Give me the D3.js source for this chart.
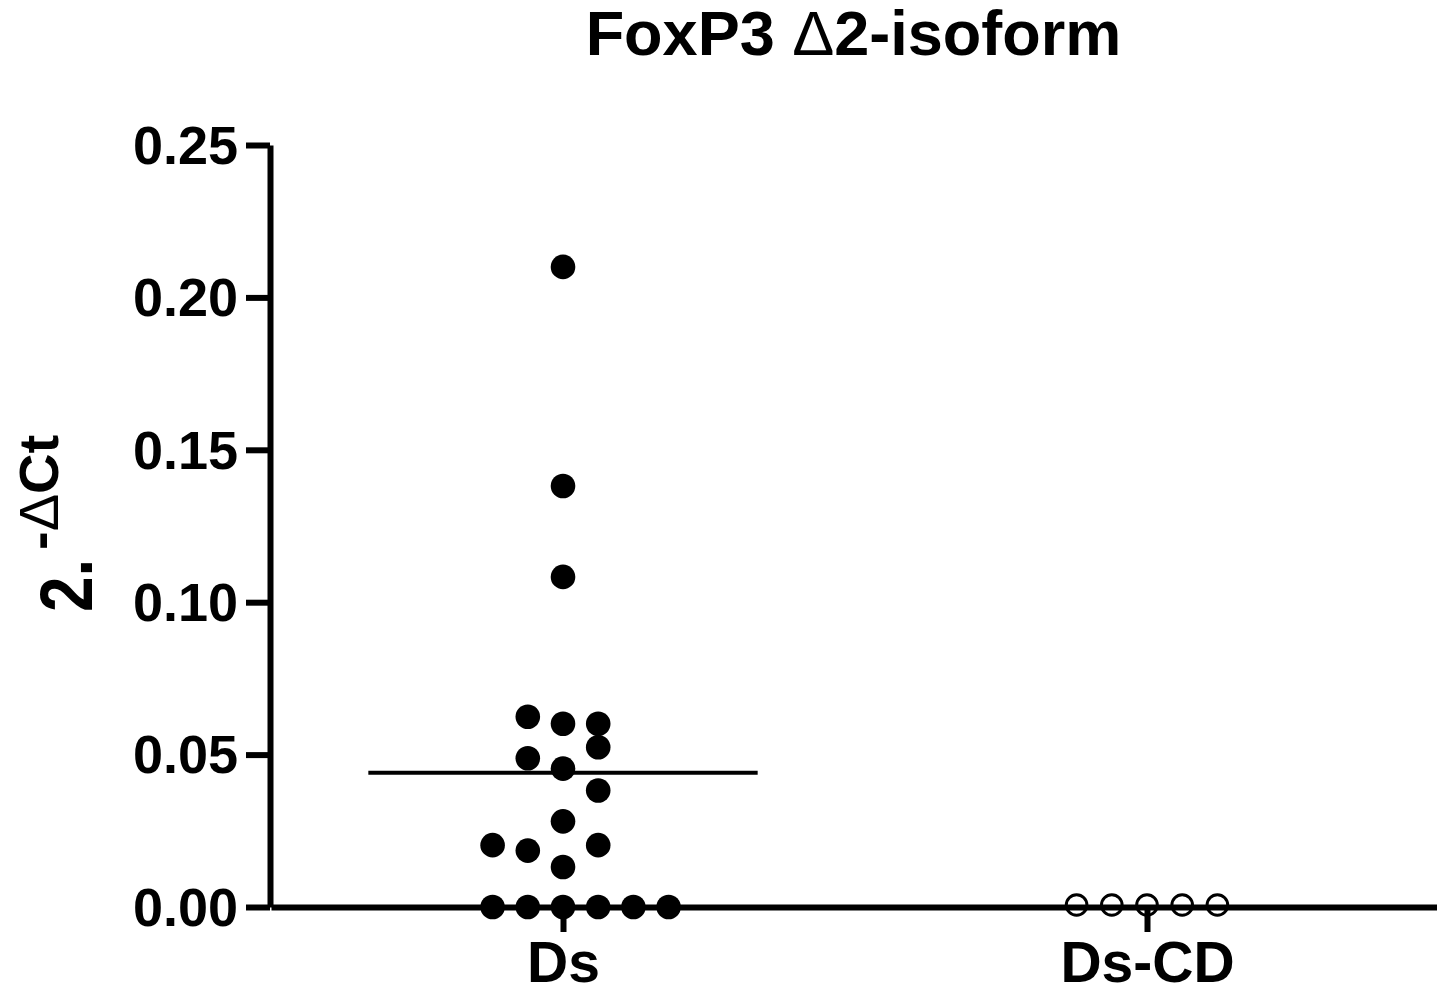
<!DOCTYPE html>
<html>
<head>
<meta charset="utf-8">
<script src="https://cdn.jsdelivr.net/npm/d3@7"></script>
<style>
	body { margin: 0; background: #fff; }
	svg text { font-family: "Liberation Sans", Arial, sans-serif; font-weight: bold; fill: #000; }
	.axis path, .axis line { stroke: #000; stroke-width: 6; }
</style>
</head>
<body>
<div id="chart"></div>
<script>
var groups = ["Ds", "Ds-CD"];
// values in the order they were entered (drives the swarm layout)
var dsValues = [0, 0, 0, 0, 0, 0,
	0.0131, 0.0281, 0.0454, 0.0601, 0.1083, 0.1381, 0.2100,
	0.0185, 0.0203, 0.0203, 0.0382, 0.0488, 0.0524, 0.0624, 0.0601];
var dsCdValues = [0, 0, 0, 0, 0];
var yTicks = [0, 0.05, 0.10, 0.15, 0.20, 0.25];

var width = 1437,
	height = 987;

var TICKFMT = d3.format(".2f");
var SLOTW = 35.2;     // horizontal step between swarm columns
var MINDY = 22.6;     // vertical gap below which two points in a column collide

var svg = d3.select("#chart")
	.append("svg")
	.attr("width", width)
	.attr("height", height);

var y = d3.scaleLinear().domain([0, 0.25]).range([907, 145]);
var x = d3.scalePoint().domain(groups).range([271, 1439]).padding(0.5);

// y axis
svg.append("g")
	.attr("class", "axis")
	.attr("transform", "translate(270,0)")
	.call(d3.axisLeft(y).tickValues(yTicks).tickSize(24).tickSizeOuter(0).tickPadding(8).tickFormat(TICKFMT))
	.call(function(g) {
		g.selectAll("text").style("font-size", "54px").attr("dy", "0.34em");
	});

// x axis
svg.append("g")
	.attr("class", "axis")
	.attr("transform", "translate(0,907)")
	.call(d3.axisBottom(x).tickSize(25).tickSizeOuter(0).tickPadding(10))
	.call(function(g) {
		g.selectAll("text").style("font-size", "57px");
	});

// title
var title = svg.append("text")
	.attr("x", 853.5)
	.attr("y", 55)
	.attr("text-anchor", "middle")
	.style("font-size", "63px");
title.append("tspan").text("FoxP3 ");
title.append("tspan").style("font-weight", "normal").text("\u0394");
title.append("tspan").text("2-isoform");

// y axis label: 2^-ΔCt
var ylab = svg.append("g").attr("transform", "translate(92,612) rotate(-90)");
ylab.append("text")
	.attr("transform", "scale(0.85,1)")
	.style("font-size", "75px")
	.text("2.");
var sup = ylab.append("text")
	.attr("x", 62)
	.attr("y", -34)
	.style("font-size", "56px");
sup.append("tspan").text("-");
sup.append("tspan").style("font-weight", "normal").text("\u0394");
sup.append("tspan").text("Ct");

// simple column swarm: centre first, then the side holding fewer points
function swarm(values, cx) {
	var placed = [];
	var sideCount = {"-1": 0, "1": 0};

	return values.map(function(v) {
		var py = y(v);
		var k = 0, slot;
		while (true) {
			var cands = k === 0 ? [0] : (sideCount["-1"] < sideCount["1"] ? [-k, k] : [k, -k]);
			slot = cands.find(function(s) {
				return placed.every(function(p) { return p.slot !== s || Math.abs(p.py - py) >= MINDY; });
			});
			if (slot !== undefined) break;
			k++;
		}
		placed.push({slot: slot, py: py});
		if (slot !== 0) sideCount[String(Math.sign(slot))]++;
		return {value: v, x: cx + slot * SLOTW, y: py};
	});
}

// mean lines
var halfW = x.step() / 3;
[dsValues, dsCdValues].forEach(function(vals, i) {
	var m = d3.mean(vals);
	var cx = x(groups[i]);
	svg.append("line")
		.attr("x1", cx - halfW)
		.attr("x2", cx + halfW)
		.attr("y1", y(m))
		.attr("y2", y(m))
		.style("stroke", "#000")
		.style("stroke-width", 4);
});

svg.selectAll(".dsPoint")
	.data(swarm(dsValues, x("Ds")))
	.enter()
	.append("circle")
	.attr("class", "dsPoint")
	.attr("cx", function(d) { return d.x; })
	.attr("cy", function(d) { return d.y; })
	.attr("r", 12.3)
	.style("fill", "#000");

svg.selectAll(".cdPoint")
	.data(swarm(dsCdValues, x("Ds-CD")))
	.enter()
	.append("circle")
	.attr("class", "cdPoint")
	.attr("cx", function(d) { return d.x; })
	.attr("cy", function(d) { return d.y - 2; })
	.attr("r", 10.3)
	.style("fill", "none")
	.style("stroke", "#000")
	.style("stroke-width", 3);
</script>
</body>
</html>
